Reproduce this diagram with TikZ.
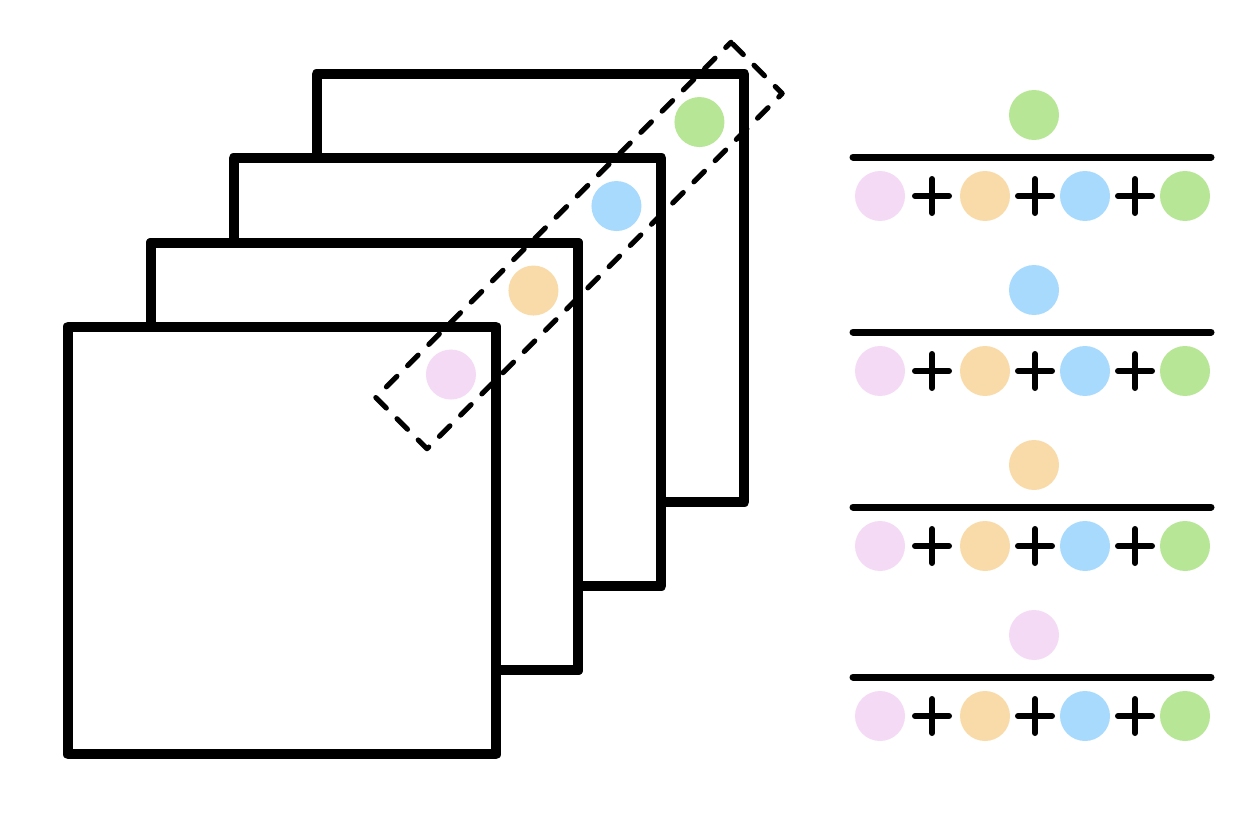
\documentclass[tikz,border=0pt]{standalone}
\usepackage{xcolor}
\usepackage{tikz}
\usetikzlibrary{positioning}

\definecolor{rosa}{RGB}{245,218,245}
\definecolor{naranja}{RGB}{249,219,170}
\definecolor{azul}{RGB}{168,218,253}
\definecolor{verde}{RGB}{184,230,151}

\begin{document}
\begin{tikzpicture}[x=0.02cm, y=-0.02cm,
  every node/.style={inner sep=0pt, outer sep=0pt},
  capa/.style={draw, fill=white, line width=0.2cm, line join=round, minimum size=8.56cm},
  punto/.style={circle, minimum size=1cm},
  ventana/.style={draw, line width=0.1cm, line cap=round, line join=round,
    dash pattern=on 0.3cm off 0.3cm, dash phase=0.15cm, rotate=45,
    minimum width=10.05cm, minimum height=1.45cm},
  regla/.style={line width=0.14cm, line cap=round},
  mas/.style={line width=0.12cm, line cap=round}]
  \useasboundingbox (0,0) rectangle (1255,825);

  % Capas
  \foreach \i/\cx/\cy in {3/530.5/288, 2/447.5/372, 1/364.5/456.5, 0/282/540.5}
    \node[capa] (capa\i) at (\cx,\cy) {};

  % Puntos en cada capa
  \foreach \i/\c in {0/rosa, 1/naranja, 2/azul, 3/verde}
    \node[punto, fill=\c] (p\i) at ([shift={(-45,48)}]capa\i.north east) {};

  % Ventana
  \node[ventana] (ventana) at (579,245.5) {};

  % Fracciones
  \foreach \j/\y/\c in {0/115/verde, 1/290/azul, 2/465/naranja, 3/635/rosa} {
    \node[punto, fill=\c] (arriba\j) at (1034,\y) {};
    \coordinate (ra\j) at (853,\y+42);
    \coordinate (rb\j) at (1211,\y+42);
    \draw[regla] (ra\j) -- (rb\j);
    \foreach \k/\x/\cc in {0/880/rosa, 1/985/naranja, 2/1085/azul, 3/1185/verde}
      \node[punto, fill=\cc] (s\j\k) at (\x,\y+81) {};
    \foreach \x in {932,1035,1135}
      \draw[mas] (\x-17,\y+81) -- (\x+17,\y+81) (\x,\y+64) -- (\x,\y+98);
  }

\end{tikzpicture}
\end{document}
